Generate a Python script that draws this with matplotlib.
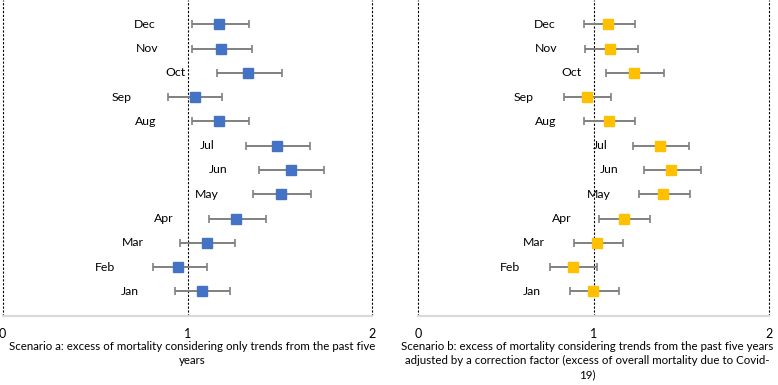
import matplotlib.pyplot as plt

plt.rcParams['font.family'] = ['Lato', 'DejaVu Sans']

months = ["Jan", "Feb", "Mar", "Apr", "May", "Jun", "Jul", "Aug", "Sep", "Oct", "Nov", "Dec"]

# scenario a
a_mid = [1.077, 0.951, 1.104, 1.263, 1.508, 1.558, 1.486, 1.173, 1.038, 1.328, 1.182, 1.169]
a_low = [0.933, 0.811, 0.960, 1.114, 1.357, 1.385, 1.319, 1.023, 0.897, 1.157, 1.025, 1.022]
a_high = [1.232, 1.104, 1.259, 1.427, 1.666, 1.741, 1.665, 1.335, 1.187, 1.514, 1.351, 1.331]

# scenario b
b_mid = [0.997, 0.882, 1.022, 1.174, 1.396, 1.443, 1.379, 1.088, 0.961, 1.231, 1.096, 1.085]
b_low = [0.864, 0.754, 0.889, 1.031, 1.258, 1.286, 1.223, 0.948, 0.830, 1.071, 0.950, 0.946]
b_high = [1.144, 1.022, 1.168, 1.324, 1.548, 1.614, 1.546, 1.236, 1.101, 1.404, 1.252, 1.235]

titles = [
    "Scenario a: excess of mortality considering only trends from the past five\nyears",
    "Scenario b: excess of mortality considering trends from the past five years\n"
    "adjusted by a correction factor (excess of overall mortality due to Covid-\n19)",
]

W, H = 778, 385
fig = plt.figure(figsize=(W / 100, H / 100), dpi=100)
fig.patch.set_facecolor('white')

panels = [
    (2.7, 372.3, a_mid, a_low, a_high, '#4472C4', 0.34, 192),
    (418, 769, b_mid, b_low, b_high, '#FFC000', 0.30, 587),
]
bottom_px = 315.7

for i, (x0, x2, mid, low, high, col, off, tx) in enumerate(panels):
    ax = fig.add_axes([x0 / W, 1 - bottom_px / H, (x2 - x0) / W, bottom_px / H])
    ypos = list(range(1, len(months) + 1))
    xerr = [[m - l for m, l in zip(mid, low)], [h - m for m, h in zip(mid, high)]]
    ax.errorbar(mid, ypos, xerr=xerr, fmt='none', ecolor='#808080', elinewidth=1.4,
                capsize=3, capthick=1.2, zorder=2)
    ax.plot(mid, ypos, 's', color=col, markersize=6.5, zorder=3, linestyle='none')
    for m, y, lab in zip(mid, ypos, months):
        ax.text(m - off, y, lab, ha='right', va='center', fontsize=8.8, color='black')
    for v in [0, 1, 2]:
        ax.axvline(v, color='black', linestyle=(0, (2, 1.5)), linewidth=0.8, zorder=1,
                   clip_on=False)
    ax.set_xlim(0, 2)
    ax.set_ylim(0, 13)
    ax.set_yticks([])
    ax.set_xticks([0, 1, 2])
    ax.tick_params(axis='x', length=0, labelsize=9, pad=9)
    for s in ['top', 'right', 'left']:
        ax.spines[s].set_visible(False)
    ax.spines['bottom'].set_color('#d9d9d9')
    ax.spines['bottom'].set_linewidth(1.5)
    ax.patch.set_alpha(0)
    fig.text(tx / W, 1 - 341 / H, titles[i], ha='center', va='top', fontsize=8.3,
             linespacing=1.35)

fig.savefig('out.png', dpi=100)
